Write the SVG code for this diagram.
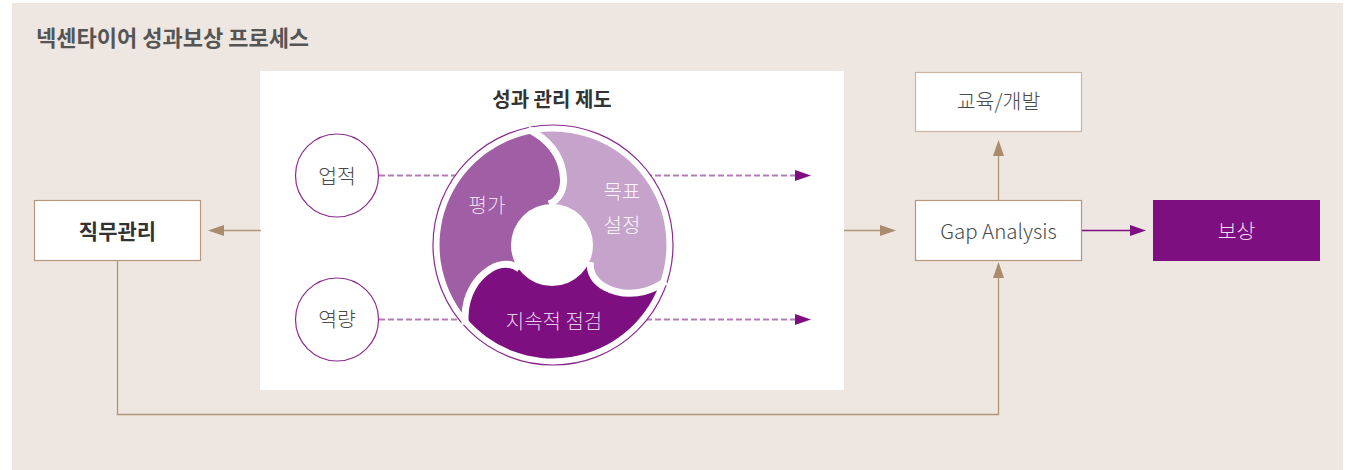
<svg xmlns="http://www.w3.org/2000/svg" xmlns:xlink="http://www.w3.org/1999/xlink" width="1350" height="470" viewBox="0 0 1350 470">
<defs>
<style>
text{font-family:"Noto Sans CJK KR","Noto Sans",sans-serif;}
.lbl{font-size:20.5px;font-weight:300;fill:#4a4a4a;text-anchor:middle;}
.box{fill:#fff;stroke:#B5987A;stroke-width:1.2;}
.tan{fill:none;stroke:#B09476;stroke-width:1.3;}
.pur{fill:none;stroke:#7E0F80;stroke-width:1.3;}
.dash{fill:none;stroke:#B47DB8;stroke-width:2;stroke-dasharray:6 3;}
.ring{fill:#fff;stroke:#8A2A8E;stroke-width:1.2;}
.lobetxt{font-size:20px;font-weight:300;text-anchor:middle;}
</style>
<marker id="ahTan" viewBox="0 0 16 11" refX="0" refY="5.5" markerWidth="16" markerHeight="11" markerUnits="userSpaceOnUse" orient="auto">
<path d="M0,0 L16,5.5 L0,11 Z" fill="#AA8B6C"/>
</marker>
<marker id="ahPur" viewBox="0 0 16 11" refX="0" refY="5.5" markerWidth="16" markerHeight="11" markerUnits="userSpaceOnUse" orient="auto">
<path d="M0,0 L16,5.5 L0,11 Z" fill="#7E0F80"/>
</marker>
<path id="lobe" d="M-4,-41 C6,-45 11,-55 10.5,-66 C10,-82 2,-100 -18,-112 A113.4,113.4 0 0 1 106,40.4 C85.6,51.7 64.3,48.7 51.5,40.7 C42.6,36.2 36,27.7 37.5,17 L0,0 Z"/>
<path id="sep" d="M-4,-41 C6,-45 11,-55 10.5,-66 C10,-82 2,-100 -18,-112 L-25,-116" fill="none" stroke="#fff" stroke-width="7"/>
</defs>

<rect x="12" y="3" width="1331" height="467" fill="#EEE6E0"/>
<text x="36" y="46" font-size="22" font-weight="bold" fill="#555">넥센타이어 성과보상 프로세스</text>
<rect x="260" y="71" width="584" height="319" fill="#fff"/>

<g id="connectors">
<path class="tan" d="M261,230.5 H224" marker-end="url(#ahTan)"/>
<path class="tan" d="M844,230.5 H880" marker-end="url(#ahTan)"/>
<path class="tan" d="M998.5,200 V156" marker-end="url(#ahTan)"/>
<path class="tan" d="M117.5,260.5 V414.5 H998.5 V278" marker-end="url(#ahTan)"/>
<path class="pur" d="M1081,230.5 H1130" marker-end="url(#ahPur)"/>
<path class="dash" d="M379,175.5 H500"/>
<path class="dash" d="M379,319.5 H500"/>
<path class="dash" d="M610,175.5 H795" marker-end="url(#ahPur)"/>
<path class="dash" d="M610,319.5 H795" marker-end="url(#ahPur)"/>
</g>

<g id="title-system">
<text x="552" y="107" font-size="20" font-weight="bold" fill="#333" text-anchor="middle">성과 관리 제도</text>
</g>

<g id="node-eopjeok">
<circle cx="337" cy="175.5" r="41.5" class="ring"/>
<text x="337" y="184" class="lbl">업적</text>
</g>
<g id="node-yeokryang">
<circle cx="337" cy="319.5" r="41.5" class="ring"/>
<text x="337" y="327" class="lbl">역량</text>
</g>

<g id="node-cycle">
<circle cx="553" cy="245" r="120" class="ring"/>
<g transform="translate(553,245)">
<use xlink:href="#lobe" href="#lobe" fill="#C6A3CA"/>
<use xlink:href="#lobe" href="#lobe" fill="#7E0F80" transform="rotate(120)"/>
<use xlink:href="#lobe" href="#lobe" fill="#A05EA4" transform="rotate(240)"/>
<use xlink:href="#sep" href="#sep"/>
<use xlink:href="#sep" href="#sep" transform="rotate(120)"/>
<use xlink:href="#sep" href="#sep" transform="rotate(240)"/>
<circle cx="-1" cy="0" r="41" fill="#fff"/>
</g>
<text x="487" y="213" class="lobetxt" fill="#EEDDEF">평가</text>
<text x="622" y="199" class="lobetxt" fill="#FAF3FA">목표</text>
<text x="622" y="233" class="lobetxt" fill="#FAF3FA">설정</text>
<text x="554" y="329" class="lobetxt" fill="#E6CCE8">지속적 점검</text>
</g>

<g id="node-jikmu">
<rect x="34.5" y="200.5" width="166" height="60" class="box"/>
<text x="117.5" y="239" font-size="21" font-weight="bold" fill="#333" text-anchor="middle">직무관리</text>
</g>

<g id="node-edu">
<rect x="915.5" y="72.5" width="166" height="59" class="box" style="stroke:#CBB5A0"/>
<text x="998.5" y="109" class="lbl">교육/개발</text>
</g>

<g id="node-gap">
<rect x="915.5" y="200.5" width="166" height="60" class="box"/>
<text x="998.5" y="239" class="lbl">Gap Analysis</text>
</g>

<g id="node-reward">
<rect x="1153" y="200" width="167" height="61" fill="#7E0F80"/>
<text x="1236.5" y="239" class="lbl" style="fill:#F0DDF0">보상</text>
</g>
</svg>
